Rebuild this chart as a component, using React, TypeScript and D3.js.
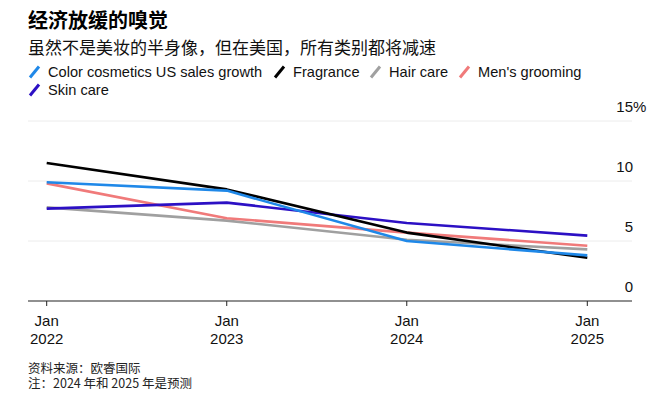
import React from "react";
import * as d3 from "d3";

const years = [2022, 2023, 2024, 2025];
const colorCosmetics = [9.9, 9.2, 5.0, 3.8];
const fragrance = [11.5, 9.3, 5.7, 3.6];
const hairCare = [7.8, 6.7, 5.1, 4.3];
const mensGrooming = [9.8, 6.9, 5.7, 4.6];
const skinCare = [7.7, 8.2, 6.5, 5.45];
const yTicks = [0, 5, 10, 15];

const seriesNames = ["Color cosmetics US sales growth", "Fragrance", "Hair care", "Men's grooming", "Skin care"];
const seriesColors = ["#1f88e8", "#000000", "#a0a0a0", "#f07a7a", "#2c10c4"];
const seriesValues = [colorCosmetics, fragrance, hairCare, mensGrooming, skinCare];
const drawOrder = [2, 3, 4, 1, 0];

const FONT = "'Liberation Sans', Arial, 'Noto Sans CJK SC', sans-serif";
const CJK = "'Noto Sans CJK SC', 'Liberation Sans', sans-serif";

export default function App() {
  const W = 664, H = 399;
  const x = d3.scaleTime()
    .domain([new Date(2022, 0, 1), new Date(2025, 0, 1)])
    .range([46.7, 587.3]);
  const y = d3.scaleLinear().domain([0, 15]).range([301, 121]);
  const line = d3.line<number>()
    .x((_, i) => x(new Date(years[i], 0, 1)))
    .y((d) => y(d))
    .curve(d3.curveLinear);

  const legendRow1 = [
    { i: 0, x: 28 },
    { i: 1, x: 273 },
    { i: 2, x: 369 },
    { i: 3, x: 458 },
  ];
  const legendRow2 = [{ i: 4, x: 28 }];

  const legendItem = (it: { i: number; x: number }, cy: number) => (
    <g key={it.i}>
      <line x1={it.x + 2} y1={cy + 6} x2={it.x + 11} y2={cy - 5}
        stroke={seriesColors[it.i]} strokeWidth={3} />
      <text x={it.x + 20} y={cy + 5} fontSize={14.6} fontFamily={FONT} fill="#111">
        {seriesNames[it.i]}
      </text>
    </g>
  );

  return (
    <svg width={W} height={H} style={{ position: "absolute", left: 0, top: 0, background: "#fff" }}>
      <text x={28} y={28} fontSize={20} fontWeight="bold" fontFamily={CJK} fill="#000">经济放缓的嗅觉</text>
      <text x={28} y={53.5} fontSize={17} fontFamily={CJK} fill="#111">虽然不是美妆的半身像，但在美国，所有类别都将减速</text>
      {legendRow1.map((it) => legendItem(it, 71.5))}
      {legendRow2.map((it) => legendItem(it, 89.5))}

      {yTicks.filter((t) => t > 0).map((t) => (
        <line key={t} x1={28} x2={632} y1={y(t)} y2={y(t)} stroke="#ececec" strokeWidth={1} />
      ))}
      {yTicks.map((t) => (
        <g key={"l" + t}>
          <text x={633} y={y(t) - 9} fontSize={15} fontFamily={FONT} textAnchor="end" fill="#111">{t}</text>
          {t === 15 && (
            <text x={633} y={y(t) - 9} fontSize={15} fontFamily={FONT} fill="#111">%</text>
          )}
        </g>
      ))}

      <line x1={28} x2={632} y1={y(0)} y2={y(0)} stroke="#222" strokeWidth={1.2} />
      {years.map((yr) => {
        const px = x(new Date(yr, 0, 1));
        return (
          <g key={yr}>
            <line x1={px} x2={px} y1={y(0)} y2={y(0) + 5} stroke="#222" strokeWidth={1} />
            <text x={px} y={326} fontSize={15} fontFamily={FONT} textAnchor="middle" fill="#111">Jan</text>
            <text x={px} y={344} fontSize={15} fontFamily={FONT} textAnchor="middle" fill="#111">{yr}</text>
          </g>
        );
      })}

      {drawOrder.map((i) => (
        <path key={i} d={line(seriesValues[i]) || ""} fill="none" stroke={seriesColors[i]}
          strokeWidth={2.6} strokeLinejoin="round" strokeLinecap="butt" />
      ))}

      <text x={28} y={372.5} fontSize={12.5} fontFamily={CJK} fill="#222">资料来源：欧睿国际</text>
      <text x={28} y={387.5} fontSize={12.5} fontFamily={CJK} fill="#222">注：2024 年和 2025 年是预测</text>
    </svg>
  );
}
